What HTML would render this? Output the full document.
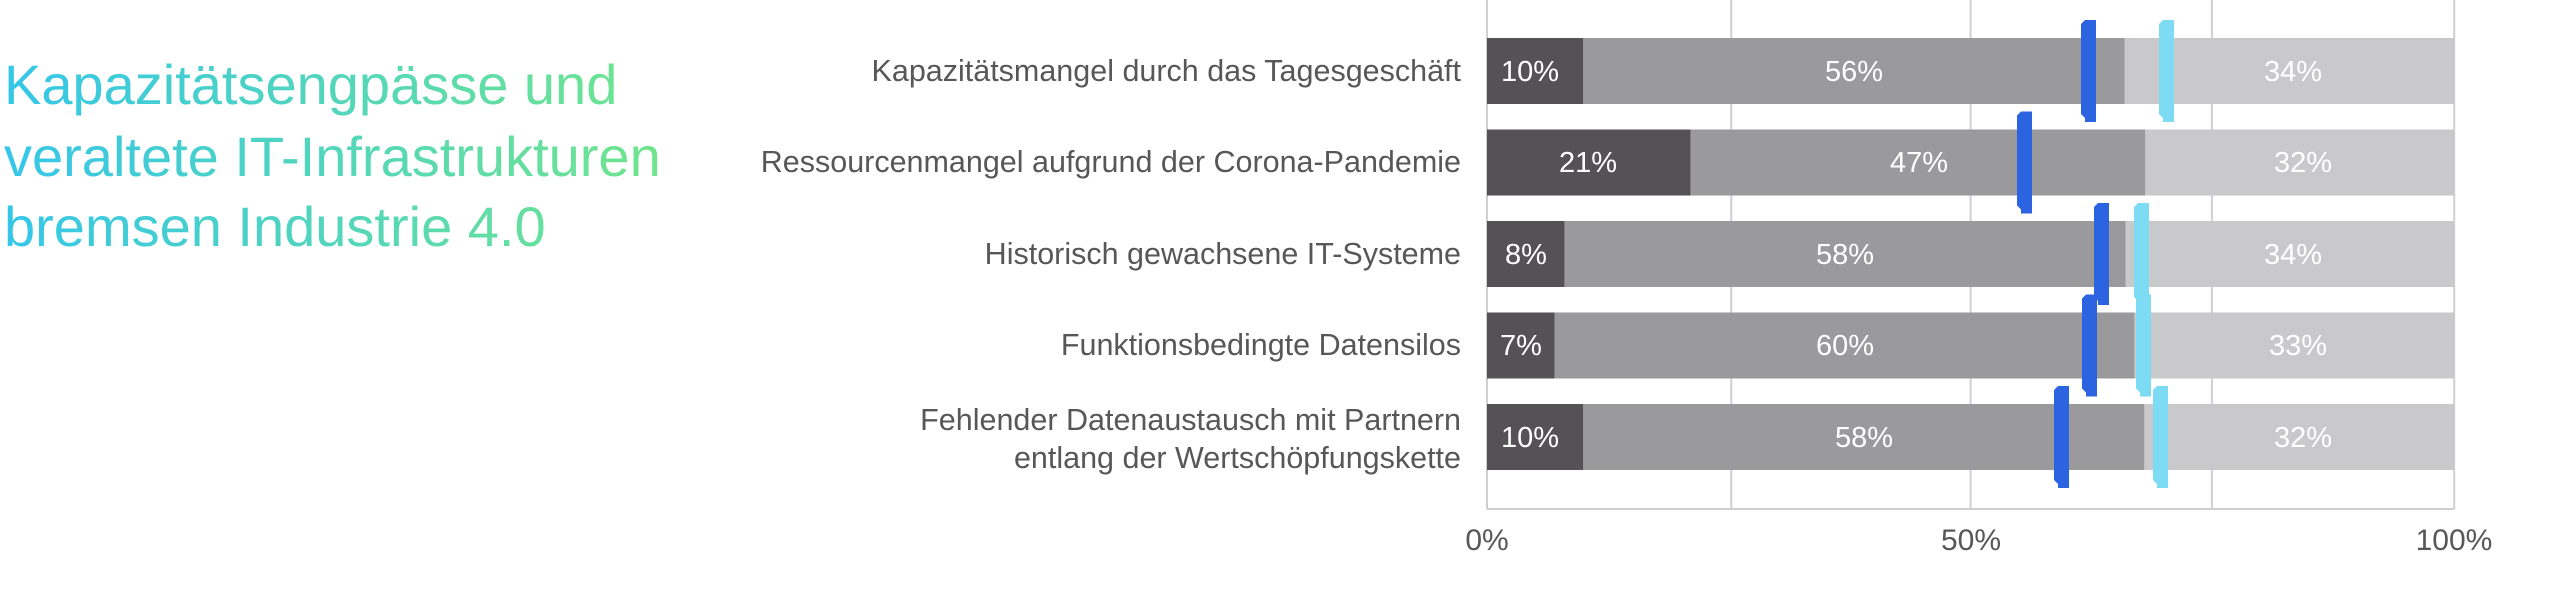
<!DOCTYPE html>
<html><head><meta charset="utf-8"><style>
html,body{margin:0;padding:0;background:#fff;width:2560px;height:592px;overflow:hidden}
svg{display:block}
text{font-family:"Liberation Sans",sans-serif}
</style></head><body>
<svg width="2560" height="592" viewBox="0 0 2560 592" xmlns="http://www.w3.org/2000/svg">
<defs>
<linearGradient id="tg" x1="0" y1="0" x2="680" y2="0" gradientUnits="userSpaceOnUse">
<stop offset="0" stop-color="#35c6ea"/><stop offset="1" stop-color="#72e68a"/>
</linearGradient>
</defs>
<g fill="url(#tg)" font-size="56">
<text x="4" y="104">Kapazitätsengpässe und</text>
<text x="4" y="176">veraltete IT-Infrastrukturen</text>
<text x="4" y="246">bremsen Industrie 4.0</text>
</g>
<g transform="translate(1487 0) scale(0.993 1) translate(-1487 0)">
<g stroke="#cfcfcf" stroke-width="2">
<line x1="1487" y1="0" x2="1487" y2="509"/>
<line x1="1733" y1="0" x2="1733" y2="509"/>
<line x1="1974" y1="0" x2="1974" y2="509"/>
<line x1="2217" y1="0" x2="2217" y2="509"/>
<line x1="2461" y1="0" x2="2461" y2="509"/>
<line x1="1487" y1="509" x2="2461" y2="509"/>
</g>
<g>
<rect x="1487" y="38" width="97" height="66" fill="#555255"/>
<rect x="1584" y="38" width="545" height="66" fill="#9a999b"/>
<rect x="2129" y="38" width="332" height="66" fill="#c9c8ca"/>

<rect x="1487" y="129.5" width="205" height="66" fill="#555255"/>
<rect x="1692" y="129.5" width="458" height="66" fill="#9a999b"/>
<rect x="2150" y="129.5" width="311" height="66" fill="#c9c8ca"/>

<rect x="1487" y="221" width="78" height="66" fill="#555255"/>
<rect x="1565" y="221" width="565" height="66" fill="#9a999b"/>
<rect x="2130" y="221" width="331" height="66" fill="#c9c8ca"/>

<rect x="1487" y="312.5" width="68" height="66" fill="#555255"/>
<rect x="1555" y="312.5" width="584" height="66" fill="#9a999b"/>
<rect x="2139" y="312.5" width="322" height="66" fill="#c9c8ca"/>

<rect x="1487" y="404" width="97" height="66" fill="#555255"/>
<rect x="1584" y="404" width="565" height="66" fill="#9a999b"/>
<rect x="2149" y="404" width="312" height="66" fill="#c9c8ca"/>
</g>
</g>
<g fill="#575757" font-size="30.5" text-anchor="end">
<text x="1461" y="81">Kapazitätsmangel durch das Tagesgeschäft</text>
<text x="1461" y="172">Ressourcenmangel aufgrund der Corona-Pandemie</text>
<text x="1461" y="264">Historisch gewachsene IT-Systeme</text>
<text x="1461" y="355">Funktionsbedingte Datensilos</text>
<text x="1461" y="430">Fehlender Datenaustausch mit Partnern</text>
<text x="1461" y="468">entlang der Wertschöpfungskette</text>
</g>
<g fill="#fff" font-size="29" text-anchor="middle">
<text x="1530" y="81">10%</text><text x="1854" y="81">56%</text><text x="2293" y="81">34%</text>
<text x="1588" y="172">21%</text><text x="1919" y="172">47%</text><text x="2303" y="172">32%</text>
<text x="1526" y="264">8%</text><text x="1845" y="264">58%</text><text x="2293" y="264">34%</text>
<text x="1521" y="355">7%</text><text x="1845" y="355">60%</text><text x="2298" y="355">33%</text>
<text x="1530" y="447">10%</text><text x="1864" y="447">58%</text><text x="2303" y="447">32%</text>
</g>
<g>
<path d="M2085 20 h11 v102 h-11 v-4 l-4 -4 v-90 l4 -4z" fill="#2b63e0"/>
<path d="M2163 20 h11 v102 h-11 v-4 l-4 -4 v-90 l4 -4z" fill="#7ddbf4"/>
<path d="M2021 111.5 h11 v102 h-11 v-4 l-4 -4 v-90 l4 -4z" fill="#2b63e0"/>
<path d="M2098 203 h11 v102 h-11 v-4 l-4 -4 v-90 l4 -4z" fill="#2b63e0"/>
<path d="M2138 203 h11 v102 h-11 v-4 l-4 -4 v-90 l4 -4z" fill="#7ddbf4"/>
<path d="M2086 294.5 h11 v102 h-11 v-4 l-4 -4 v-90 l4 -4z" fill="#2b63e0"/>
<path d="M2140 294.5 h11 v102 h-11 v-4 l-4 -4 v-90 l4 -4z" fill="#7ddbf4"/>
<path d="M2058 386 h11 v102 h-11 v-4 l-4 -4 v-90 l4 -4z" fill="#2b63e0"/>
<path d="M2157 386 h11 v102 h-11 v-4 l-4 -4 v-90 l4 -4z" fill="#7ddbf4"/>
</g>
<g fill="#575757" font-size="30" text-anchor="middle">
<text x="1487" y="550">0%</text>
<text x="1971" y="550">50%</text>
<text x="2454" y="550">100%</text>
</g>
</svg>
</body></html>
